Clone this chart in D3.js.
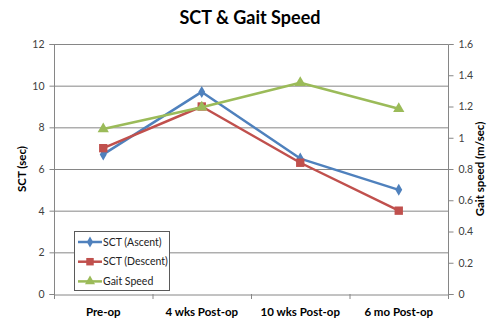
<!DOCTYPE html>
<html><head><meta charset="utf-8">
<script src="https://cdn.jsdelivr.net/npm/d3@7"></script>
<style>body{margin:0;background:#fff}svg{display:block}text{font-family:Lato,"Open Sans",sans-serif}</style>
</head><body><svg id="c" width="500" height="324"></svg>
<script>
const categories = ["Pre-op", "4 wks Post-op", "10 wks Post-op", "6 mo Post-op"];
const sctAscent = [6.7, 9.7, 6.5, 5.0];
const sctDescent = [7.0, 9.0, 6.3, 4.0];
const gaitSpeed = [1.056, 1.195, 1.352, 1.186];
const leftTicks = [0, 2, 4, 6, 8, 10, 12];
const rightTicks = [0, 0.2, 0.4, 0.6, 0.8, 1, 1.2, 1.4, 1.6];

const svg = d3.select("#c");
const L = 54, R = 448, T = 44, B = 294;
const x = d3.scaleBand().domain(categories).range([L, R]);
const yL = d3.scaleLinear().domain([0, 12]).range([B, T]);
const yR = d3.scaleLinear().domain([0, 1.6]).range([B, T]);
const axisCol = "#868686", textCol = "#404040";

svg.append("text").attr("x", 250).attr("y", 24).attr("text-anchor", "middle")
  .attr("font-size", 18).attr("font-weight", "bold").attr("fill", "#000").text("SCT & Gait Speed");

// gridlines
svg.append("g").selectAll("line").data(leftTicks.filter(d => d > 0)).join("line")
  .attr("x1", L).attr("x2", R).attr("y1", d => yL(d) + 0.5).attr("y2", d => yL(d) + 0.5)
  .attr("stroke", axisCol).attr("stroke-width", 1);

// left axis
const gl = svg.append("g").attr("transform", `translate(${L + 0.5},0)`)
  .call(d3.axisLeft(yL).tickValues(leftTicks).tickSize(5).tickPadding(5).tickFormat(d3.format("d")));
// right axis
const gr = svg.append("g").attr("transform", `translate(${R + 0.5},0)`)
  .call(d3.axisRight(yR).tickValues(rightTicks).tickSize(5).tickPadding(5).tickFormat(d => d === 0 ? "0" : d3.format("~g")(d)));
// bottom axis
const gb = svg.append("g").attr("transform", `translate(0,${B + 0.5})`)
  .call(d3.axisBottom(x).tickSize(0).tickPadding(13));
[gl, gr, gb].forEach(g => {
  g.select(".domain").attr("stroke", axisCol);
  g.selectAll(".tick line").attr("stroke", axisCol);
  g.selectAll("text").attr("fill", textCol).attr("font-size", 10.5).attr("font-family", "Lato,sans-serif");
});
gl.select(".domain").attr("d", `M-5,${T + 0.5}H0V${B + 0.5}H-5`);
gr.select(".domain").attr("d", `M5,${T + 0.5}H0V${B + 0.5}H5`);
gb.selectAll("text").attr("font-weight", "bold").attr("fill", "#000").attr("font-size", 11.5);
// category boundary ticks
svg.append("g").selectAll("line").data(categories.slice(1)).join("line")
  .attr("x1", d => x(d) + 0.5).attr("x2", d => x(d) + 0.5).attr("y1", B).attr("y2", B + 5)
  .attr("stroke", axisCol);
svg.append("line").attr("x1", L + 0.5).attr("x2", L + 0.5).attr("y1", B).attr("y2", B + 5).attr("stroke", axisCol);
svg.append("line").attr("x1", R + 0.5).attr("x2", R + 0.5).attr("y1", B).attr("y2", B + 5).attr("stroke", axisCol);

// axis titles
svg.append("text").attr("transform", `translate(26,${(T + B) / 2}) rotate(-90)`).attr("text-anchor", "middle")
  .attr("font-size", 11.5).attr("font-weight", "bold").attr("fill", "#000").text("SCT (sec)");
svg.append("text").attr("transform", `translate(484,${(T + B) / 2}) rotate(-90)`).attr("text-anchor", "middle")
  .attr("font-size", 11.5).attr("font-weight", "bold").attr("fill", "#000").text("Gait speed (m/sec)");

const cx = d => x(d) + x.bandwidth() / 2;
const series = [
  {name: "SCT (Ascent)", vals: sctAscent, y: yL, color: "#4F81BD", sym: d3.symbolDiamond, size: 42},
  {name: "SCT (Descent)", vals: sctDescent, y: yL, color: "#C0504D", sym: d3.symbolSquare, size: 70},
  {name: "Gait Speed", vals: gaitSpeed, y: yR, color: "#9BBB59", sym: d3.symbolTriangle, size: 55}
];
series.forEach(s => {
  const pts = categories.map((c, i) => [cx(c), s.y(s.vals[i])]);
  svg.append("path").attr("d", d3.line()(pts)).attr("fill", "none").attr("stroke", s.color)
    .attr("stroke-width", 2.5).attr("stroke-linejoin", "round");
  svg.append("g").selectAll("path").data(pts).join("path")
    .attr("transform", d => `translate(${d[0]},${d[1]})`)
    .attr("d", d3.symbol().type(s.sym).size(s.size)).attr("fill", s.color);
});

// legend
const lg = svg.append("g");
lg.append("rect").attr("x", 74.5).attr("y", 231.5).attr("width", 95).attr("height", 59)
  .attr("fill", "#fff").attr("stroke", "#5a5a5a").attr("stroke-width", 1);
series.forEach((s, i) => {
  const yy = 242 + i * 19.7;
  lg.append("line").attr("x1", 78).attr("x2", 102).attr("y1", yy).attr("y2", yy)
    .attr("stroke", s.color).attr("stroke-width", 2.5);
  lg.append("path").attr("transform", `translate(90,${yy})`)
    .attr("d", d3.symbol().type(s.sym).size(s.size * 0.8)).attr("fill", s.color);
  lg.append("text").attr("x", 103).attr("y", yy + 3.5).attr("font-size", 10.5).attr("fill", "#222").text(s.name);
});
</script></body></html>
